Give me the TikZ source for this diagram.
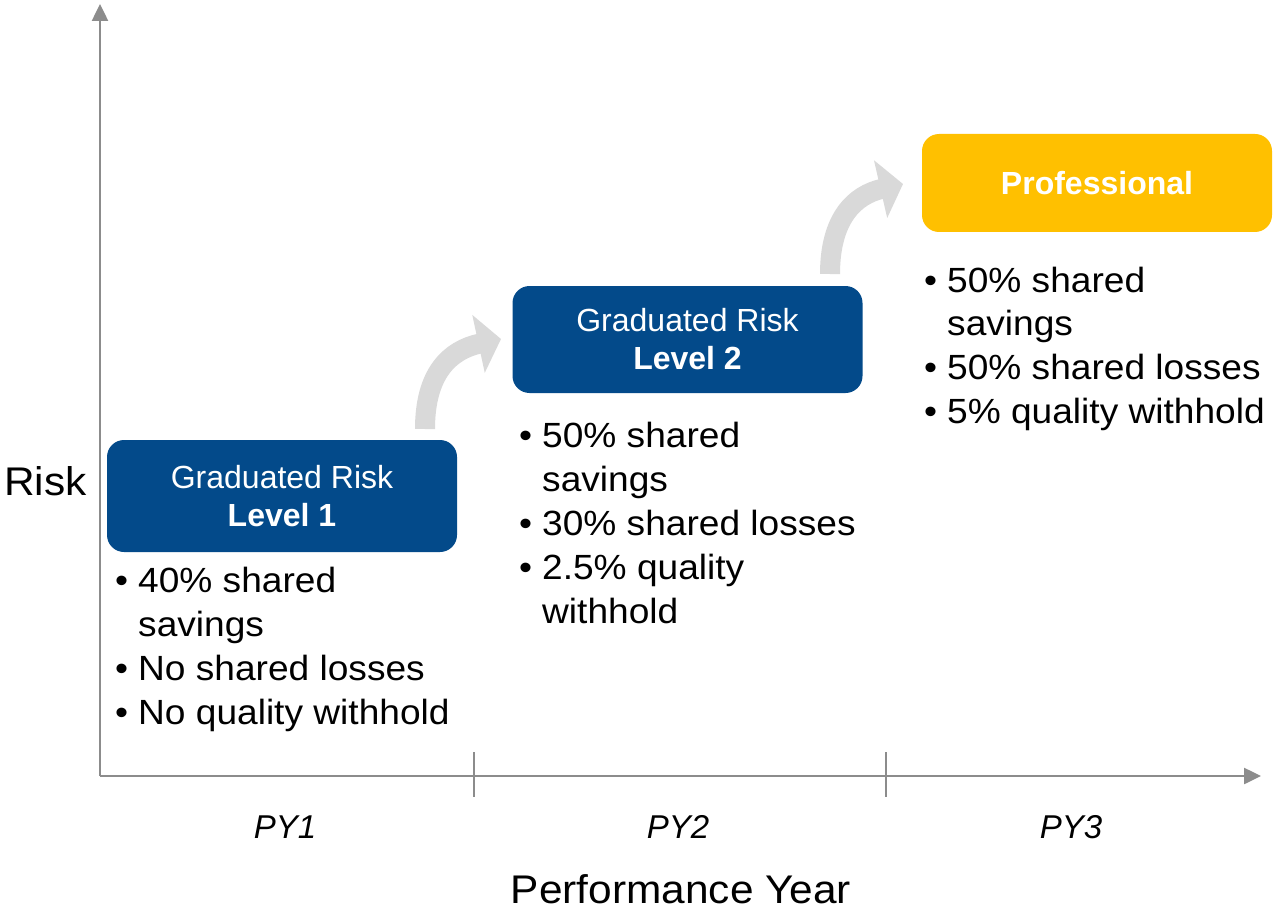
\documentclass[tikz,border=0pt]{standalone}
\usepackage{fontspec}
\setmainfont{Liberation Sans}
\newfontfamily\widefont[FakeStretch=1.06]{Liberation Sans}
\usetikzlibrary{arrows.meta}
\definecolor{boxblue}{HTML}{034A8A}
\definecolor{boxyellow}{HTML}{FFC000}
\definecolor{axisgray}{HTML}{8C8C8C}
\definecolor{arrowgray}{HTML}{D9D9D9}
\newcommand{\bitem}[1]{\hbox{\makebox[23pt][l]{•}#1}}
\newcommand{\bcont}[1]{\hbox{\hspace*{23pt}#1}}
\begin{document}
\begin{tikzpicture}[x=1pt,y=-1pt,
  levelbox/.style={rounded corners=17pt, inner sep=0pt, text=white, align=center,
    font=\fontsize{32}{38}\selectfont, minimum width=350pt},
  bulletlist/.style={anchor=base west, inner sep=0pt, font=\widefont\fontsize{35}{44}\selectfont},
  axisline/.style={draw=axisgray, line width=2.5pt, -{Triangle[width=16pt,length=17pt]}},
  tickline/.style={draw=axisgray, line width=2pt},
  steparrow/.style={draw=arrowgray, line width=20pt, -{Triangle[width=58pt,length=23pt]}},
  pylabel/.style={anchor=base, inner sep=0pt, font=\fontsize{33}{40}\selectfont\itshape},
  axislabel/.style={inner sep=0pt, font=\widefont\fontsize{40}{48}\selectfont}
]
\useasboundingbox[fill=white] (0,0) rectangle (1273,909);

% axes
\coordinate (O) at (100,776);
\coordinate (ytop) at (100,4);
\coordinate (xend) at (1261,776);
\draw[axisline] (O) -- (ytop);
\draw[axisline] (O) -- (xend);
\coordinate (t1a) at (474,752); \coordinate (t1b) at (474,797);
\coordinate (t2a) at (886,752); \coordinate (t2b) at (886,797);
\draw[tickline] (t1a) -- (t1b);
\draw[tickline] (t2a) -- (t2b);

% axis labels
\node[axislabel, anchor=base west] (risk) at (4,495) {Risk};
\node[axislabel, anchor=base] (perf) at (681,903) {Performance Year};
\node[pylabel] (py1) at (285,838) {PY1};
\node[pylabel] (py2) at (678,838) {PY2};
\node[pylabel] (py3) at (1071,838) {PY3};

% boxes
\node[levelbox, fill=boxblue, minimum height=112pt] (b1) at (282,496)
  {Graduated Risk\\\textbf{Level 1}};
\node[levelbox, fill=boxblue, minimum height=107pt] (b2) at (687.5,339.5)
  {Graduated Risk\\\textbf{Level 2}};
\node[levelbox, fill=boxyellow, minimum height=98pt] (b3) at (1097,183)
  {\textbf{Professional}};

% bullet lists
\node[bulletlist] (l1) at (115,592) {\vtop{\baselineskip=44.3pt
  \bitem{40\% shared}\bcont{savings}\bitem{No shared losses}\bitem{No quality withhold}}};
\node[bulletlist] (l2) at (519,447) {\vtop{\baselineskip=44pt
  \bitem{50\% shared}\bcont{savings}\bitem{30\% shared losses}\bitem{2.5\% quality}\bcont{withhold}}};
\node[bulletlist] (l3) at (924,292) {\vtop{\baselineskip=43.7pt
  \bitem{50\% shared}\bcont{savings}\bitem{50\% shared losses}\bitem{5\% quality withhold}}};

% step arrows
\coordinate (a1s) at (425,429);
\coordinate (a1e) at (501,339);
\coordinate (a2s) at (830,274);
\coordinate (a2e) at (903,184);
\draw[steparrow] (a1s) .. controls (425,373) and (450,350) .. (a1e);
\draw[steparrow] (a2s) .. controls (830,218) and (855,195) .. (a2e);
\end{tikzpicture}
\end{document}
